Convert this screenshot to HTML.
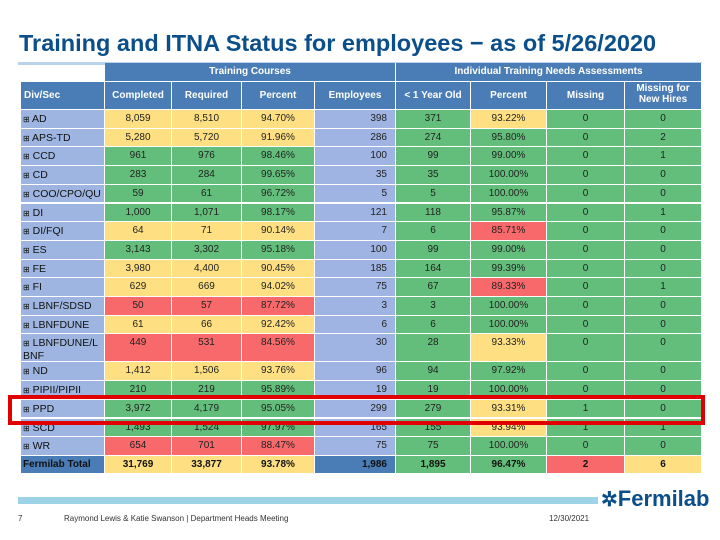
<!DOCTYPE html>
<html><head><meta charset="utf-8">
<style>
body{margin:0;width:720px;height:540px;background:#fff;position:relative;overflow:hidden;font-family:"Liberation Sans",sans-serif}
.c{position:absolute;box-sizing:border-box;font-size:10px;color:#222;text-align:center;border-right:1px solid #fff;border-bottom:1px solid #fff;padding-top:3px}
.h{color:#fff;font-weight:bold;background:#4a7db5}
</style></head><body>
<div style="position:absolute;left:19px;top:30px;font-size:23.5px;font-weight:bold;color:#0b4f8a;white-space:nowrap">Training and ITNA Status for employees − as of 5/26/2020</div>
<div style="position:absolute;left:18px;top:62px;width:684px;height:3px;background:#b9d3ea"></div>
<div id="tbl"></div>
<div style="position:absolute;left:8px;top:395px;width:697px;height:30px;border:4px solid #e10000;box-sizing:border-box"></div>
<div style="position:absolute;left:18px;top:497px;width:580px;height:7px;background:#9dd3e6"></div>
<div style="position:absolute;left:601px;top:486px;font-size:22px;font-weight:bold;color:#0b4f8a;white-space:nowrap"><span style="font-size:20px">✲</span>Fermilab</div>
<div style="position:absolute;left:18px;top:514px;font-size:8px;color:#333">7</div>
<div style="position:absolute;left:64px;top:514px;font-size:8px;color:#333">Raymond Lewis &amp; Katie Swanson | Department Heads Meeting</div>
<div style="position:absolute;left:549px;top:514px;font-size:8px;color:#333">12/30/2021</div>
<script>
const divs=["AD","APS-TD","CCD","CD","COO/CPO/QU","DI","DI/FQI","ES","FE","FI","LBNF/SDSD","LBNFDUNE","LBNFDUNE/L BNF","ND","PIPII/PIPII","PPD","SCD","WR"];
const completed=["8,059","5,280","961","283","59","1,000","64","3,143","3,980","629","50","61","449","1,412","210","3,972","1,493","654"];
const required=["8,510","5,720","976","284","61","1,071","71","3,302","4,400","669","57","66","531","1,506","219","4,179","1,524","701"];
const pct=[94.70,91.96,98.46,99.65,96.72,98.17,90.14,95.18,90.45,94.02,87.72,92.42,84.56,93.76,95.89,95.05,97.97,88.47];
const employees=["398","286","100","35","5","121","7","100","185","75","3","6","30","96","19","299","165","75"];
const yearOld=["371","274","99","35","5","118","6","99","164","67","3","6","28","94","19","279","155","75"];
const itnaPct=[93.22,95.80,99.00,100,100,95.87,85.71,99.00,99.39,89.33,100,100,93.33,97.92,100,93.31,93.94,100];
const missing=["0","0","0","0","0","0","0","0","0","0","0","0","0","0","0","1","1","0"];
const newHires=["0","2","1","0","0","1","0","0","0","1","0","0","0","0","0","0","1","0"];
const total=["Fermilab Total","31,769","33,877","93.78%","1,986","1,895","96.47%","2","6"];
const colX=[21,105,172,242,315,396,471,547,625,702];
const Y="#fee083",G="#63be7b",R="#f8696b",LB="#9fb4e3",DB="#4a7db5";
const t=document.getElementById('tbl');
function cell(x0,x1,y,h,txt,bg,cls,name,extra){
 const d=document.createElement('div');
 d.className='c '+(cls||'');
 d.style.left=x0+'px';d.style.top=y+'px';d.style.width=(x1-x0)+'px';d.style.height=h+'px';d.style.background=bg;
 if(extra)d.style.cssText+=extra;
 d.innerHTML=txt;
 
 
 t.appendChild(d);return d;}
function pc(v){return v>=95?G:(v>=90?Y:R);}
cell(colX[1],colX[5],63,19,"Training Courses",DB,'h','header-training-courses');
cell(colX[5],colX[9],63,19,"Individual Training Needs Assessments",DB,'h','header-itna');
const hd=["Div/Sec","Completed","Required","Percent","Employees","&lt; 1 Year Old","Percent","Missing","Missing for<br>New Hires"];
hd.forEach((s,i)=>{cell(colX[i],colX[i+1],82,28,s,DB,'h','column-header',(i==0?'text-align:left;padding-left:3px;':'')+(i==8?'padding-top:1px;line-height:11px;':'padding-top:8px;'));});
let y=110;
divs.forEach((dv,i)=>{
 const h=(i==12)?28:18.7;
 const p=pc(pct[i]);
 cell(colX[0],colX[1],y,h,'<span style="font-size:8px">⊞</span> '+dv,"#9db5e0",'','row-label','text-align:left;padding-left:2px;font-size:10.5px;color:#111;line-height:'+(i==12?'12px':'13px'));
 cell(colX[1],colX[2],y,h,completed[i],p,'','completed-cell');
 cell(colX[2],colX[3],y,h,required[i],p,'','required-cell');
 cell(colX[3],colX[4],y,h,pct[i].toFixed(2)+'%',p,'','training-percent-cell');
 cell(colX[4],colX[5],y,h,employees[i],LB,'','employees-cell','text-align:right;padding-right:8px');
 cell(colX[5],colX[6],y,h,yearOld[i],G,'','year-old-cell');
 cell(colX[6],colX[7],y,h,itnaPct[i].toFixed(2)+'%',pc(itnaPct[i]),'','itna-percent-cell');
 cell(colX[7],colX[8],y,h,missing[i],G,'','missing-cell');
 cell(colX[8],colX[9],y,h,newHires[i],G,'','new-hires-missing-cell');
 y+=h;});
const tb=[DB,Y,Y,Y,DB,G,G,R,Y];
total.forEach((s,i)=>cell(colX[i],colX[i+1],y,18.5,s,tb[i],'','total-cell','font-weight:bold;color:#111;'+(i==0?'text-align:left;padding-left:2px;':'')+(i==4?'text-align:right;padding-right:8px;':'')));
</script>
</body></html>
